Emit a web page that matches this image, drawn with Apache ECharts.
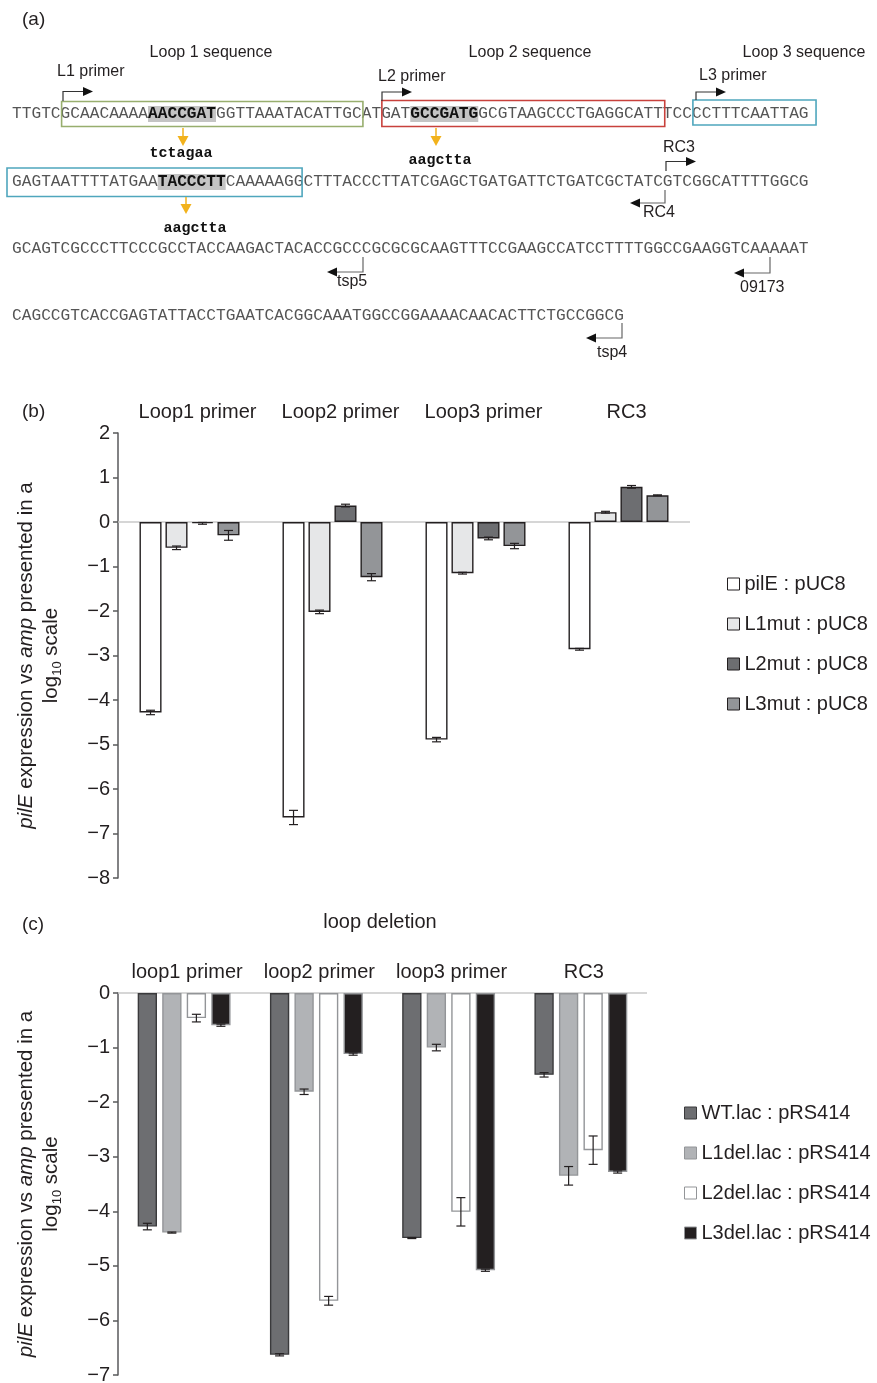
<!DOCTYPE html>
<html><head><meta charset="utf-8">
<script src="https://cdn.jsdelivr.net/npm/echarts@6/dist/echarts.min.js"></script>
<style>html,body{margin:0;padding:0;background:#fff}#c{width:877px;height:1383px}</style>
</head><body><div id="c"></div>
<script>
// ---------- Panel (a): sequence text ----------
var seqLine1 = [['TTGTCGCAACAAAA',0],['AACCGAT',1],['GGTTAAATACATTGCATGAT',0],['GCCGATG',1],['GCGTAAGCCCTGAGGCATTTCCCCTTTCAATTAG',0]];
var seqLine2 = [['GAGTAATTTTATGAA',0],['TACCCTT',1],['CAAAAAGGCTTTACCCTTATCGAGCTGATGATTCTGATCGCTATCGTCGGCATTTTGGCG',0]];
var seqLine3 = [['GCAGTCGCCCTTCCCGCCTACCAAGACTACACCGCCCGCGCGCAAGTTTCCGAAGCCATCCTTTTGGCCGAAGGTCAAAAAT',0]];
var seqLine4 = [['CAGCCGTCACCGAGTATTACCTGAATCACGGCAAATGGCCGGAAAACAACACTTCTGCCGGCG',0]];
var mutations = ['tctagaa','aagctta','aagctta'];

// ---------- Panel (b) data ----------
var catsB = ['Loop1 primer','Loop2 primer','Loop3 primer','RC3'];
var namesB = ['pilE : pUC8','L1mut : pUC8','L2mut : pUC8','L3mut : pUC8'];
var pilE_pUC8     = [-4.28, -6.64, -4.89, -2.86];
var pilE_pUC8_err = [0.05, 0.16, 0.05, 0.02];
var L1mut_pUC8     = [-0.58, -2.02, -1.15, 0.22];
var L1mut_pUC8_err = [0.04, 0.04, 0.02, 0.02];
var L2mut_pUC8     = [-0.03, 0.37, -0.37, 0.79];
var L2mut_pUC8_err = [0.02, 0.03, 0.03, 0.03];
var L3mut_pUC8     = [-0.30, -1.24, -0.54, 0.60];
var L3mut_pUC8_err = [0.11, 0.08, 0.06, 0.01];
var ticksB = {min: -8, max: 2, interval: 1};

// ---------- Panel (c) data ----------
var catsC = ['loop1 primer','loop2 primer','loop3 primer','RC3'];
var namesC = ['WT.lac : pRS414','L1del.lac : pRS414','L2del.lac : pRS414','L3del.lac : pRS414'];
var WT_lac     = [-4.28, -6.63, -4.49, -1.50];
var WT_lac_err = [0.06, 0.02, 0.01, 0.04];
var L1del_lac     = [-4.39, -1.81, -1.00, -3.35];
var L1del_lac_err = [0.01, 0.05, 0.06, 0.17];
var L2del_lac     = [-0.46, -5.64, -4.01, -2.88];
var L2del_lac_err = [0.07, 0.08, 0.26, 0.26];
var L3del_lac     = [-0.59, -1.12, -5.08, -3.28];
var L3del_lac_err = [0.02, 0.02, 0.02, 0.02];
var ticksC = {min: -7, max: 0, interval: 1};

var SANS = '"Liberation Sans", Arial, sans-serif';
var MONO = '"Liberation Mono", "Courier New", monospace';
var INK = '#231f20';

var valsB = [pilE_pUC8, L1mut_pUC8, L2mut_pUC8, L3mut_pUC8];
var errsB = [pilE_pUC8_err, L1mut_pUC8_err, L2mut_pUC8_err, L3mut_pUC8_err];
var valsC = [WT_lac, L1del_lac, L2del_lac, L3del_lac];
var errsC = [WT_lac_err, L1del_lac_err, L2del_lac_err, L3del_lac_err];

var stylesB = [
  {color:'#ffffff', borderColor:INK, borderWidth:1.4},
  {color:'#e6e7e8', borderColor:INK, borderWidth:1.4},
  {color:'#6d6e71', borderColor:INK, borderWidth:1.4},
  {color:'#939598', borderColor:INK, borderWidth:1.4}
];
var stylesC = [
  {color:'#6d6e71', borderColor:'#3a3a3c', borderWidth:1.4},
  {color:'#b1b3b6', borderColor:'#939598', borderWidth:1.4},
  {color:'#ffffff', borderColor:'#939598', borderWidth:1.4},
  {color:'#231f20', borderColor:'#939598', borderWidth:1.4}
];
var BW_B = 0.154, BG_B = 0.18, BW_C = 0.146, BG_C = 0.27;

// ---------- graphic helpers for panel (a) ----------
var CW = 9.72, X0 = 12;
function cx(i){ return X0 + i*CW; }
function seqText(y, parts){
  var s = parts.map(function(p){ return '{' + (p[1] ? 'b' : 'n') + '|' + p[0] + '}'; }).join('');
  return {type:'text', x:X0, y:y, silent:true, style:{text:s, align:'left', verticalAlign:'middle',
    rich:{
      n:{fontFamily:MONO, fontSize:16.2, fill:'#555555', lineHeight:24},
      b:{fontFamily:MONO, fontSize:16.2, fontWeight:'bold', fill:'#111', backgroundColor:'#c4c4c4', lineHeight:24}
    }}};
}
function label(t, x, y, align, size){
  return {type:'text', x:x, y:y, silent:true, style:{text:t, fontFamily:SANS, fontSize:size||16, fill:INK, align:align||'left', verticalAlign:'middle'}};
}
function monoLabel(t, x, y){
  return {type:'text', x:x, y:y, silent:true, style:{text:t, fontFamily:MONO, fontSize:15, fontWeight:'bold', fill:'#111', align:'center', verticalAlign:'middle'}};
}
function box(x1, y1, x2, y2, col){
  return {type:'rect', silent:true, shape:{x:x1, y:y1, width:x2-x1, height:y2-y1}, style:{fill:'none', stroke:col, lineWidth:1.6}};
}
function fwdArrow(x, yb, yt, tip){
  return [
    {type:'polyline', silent:true, shape:{points:[[x,yb],[x,yt],[tip-8,yt]]}, style:{stroke:'#333', lineWidth:1.2, fill:null}},
    {type:'polygon', silent:true, shape:{points:[[tip-10,yt-4.5],[tip,yt],[tip-10,yt+4.5]]}, style:{fill:'#111'}}
  ];
}
function revArrow(x, yt, yb, tip){
  return [
    {type:'polyline', silent:true, shape:{points:[[x,yt],[x,yb],[tip+8,yb]]}, style:{stroke:'#666', lineWidth:1.2, fill:null}},
    {type:'polygon', silent:true, shape:{points:[[tip+10,yb-4.5],[tip,yb],[tip+10,yb+4.5]]}, style:{fill:'#111'}}
  ];
}
function yArrow(x, y1, y2){
  return [
    {type:'line', silent:true, shape:{x1:x, y1:y1, x2:x, y2:y2-8}, style:{stroke:'#f2b21c', lineWidth:1.5}},
    {type:'polygon', silent:true, shape:{points:[[x-5.5,y2-10],[x+5.5,y2-10],[x,y2]]}, style:{fill:'#f2b21c'}}
  ];
}

var graphics = [
  label('(a)', 22, 20, 'left', 19),
  label('(b)', 22, 412, 'left', 19),
  label('(c)', 22, 925, 'left', 19),
  label('loop deletion', 380, 922, 'center', 20),
  label('Loop 1 sequence', 211, 53, 'center'),
  label('Loop 2 sequence', 530, 53, 'center'),
  label('Loop 3 sequence', 804, 53, 'center'),
  label('L1 primer', 57, 72),
  label('L2 primer', 378, 77),
  label('L3 primer', 699, 76),
  label('RC3', 663, 148),
  label('RC4', 643, 213),
  label('tsp5', 337, 282),
  label('09173', 740, 288),
  label('tsp4', 597, 353),
  seqText(114, seqLine1),
  seqText(182, seqLine2),
  seqText(249, seqLine3),
  seqText(316, seqLine4),
  box(cx(5)+1, 101.5, cx(36)+1, 126.5, '#98ae6e'),
  box(cx(38)+0.5, 100.5, cx(67)+1.5, 126.5, '#c8413c'),
  box(cx(70)+0.5, 100, cx(82)+7, 125, '#4fa6bd'),
  box(cx(0)-5, 168, cx(30)-1.5, 196.5, '#4fa6bd'),
  monoLabel(mutations[0], 181, 153),
  monoLabel(mutations[1], 440, 160),
  monoLabel(mutations[2], 195, 228)
];
graphics = graphics
  .concat(fwdArrow(63, 101, 91.5, 93))
  .concat(fwdArrow(382, 101, 92, 412))
  .concat(fwdArrow(696, 100, 92, 726))
  .concat(fwdArrow(666, 171, 161.5, 696))
  .concat(revArrow(665, 190, 203, 630))
  .concat(revArrow(363, 257, 272, 327))
  .concat(revArrow(770, 257, 273, 734))
  .concat(revArrow(622, 323, 338, 586))
  .concat(yArrow(183, 128, 146))
  .concat(yArrow(436, 128, 146))
  .concat(yArrow(186, 197, 214));

// ---------- chart ----------
function minusFmt(v){ return v < 0 ? '\u2212' + Math.abs(v) : String(v); }
function yAxisCfg(gi, t){
  return {type:'value', gridIndex:gi, min:t.min, max:t.max, interval:t.interval,
    name:'{i|pilE} expression vs {i|amp} presented in a\nlog{s|10} scale',
    nameLocation:'middle', nameRotate:90, nameGap:54,
    nameTextStyle:{fontFamily:SANS, fontSize:20.5, lineHeight:25, color:INK,
      rich:{i:{fontFamily:SANS, fontSize:20.5, fontStyle:'italic', color:INK, lineHeight:25},
            s:{fontFamily:SANS, fontSize:13, color:INK, verticalAlign:'bottom', lineHeight:14}}},
    axisLine:{show:true, lineStyle:{color:'#58595b', width:1.5}},
    axisTick:{show:true, length:5, lineStyle:{color:'#58595b', width:1.5}},
    axisLabel:{fontFamily:SANS, fontSize:20, color:INK, margin:8, formatter:minusFmt},
    splitLine:{show:false}};
}
function xAxisCfg(gi, cats, pad){
  return {type:'category', gridIndex:gi, data:cats, position:'top',
    axisLine:{show:false}, axisTick:{show:false},
    axisLabel:{fontFamily:SANS, fontSize:20, color:INK, margin:11, padding:[0,0,0,pad], interval:0}};
}
function barSeries(gi, names, vals, styles, bw, bg){
  return vals.map(function(v, i){
    var s = {type:'bar', name:names[i], xAxisIndex:gi, yAxisIndex:gi, data:v,
      barWidth:(bw*100)+'%', barGap:(bg*100)+'%', itemStyle:styles[i], silent:true, z:2};
    if (i === 0) {
      s.markLine = {silent:true, symbol:'none', label:{show:false}, animation:false, z:1,
        lineStyle:{color:'#c9c9c9', width:1.5, type:'solid'}, data:[{yAxis:0}]};
    }
    return s;
  });
}
function errSeries(gi, vals, errs, bw, bg){
  var n = vals.length;
  return vals.map(function(v, idx){
    return {type:'custom', xAxisIndex:gi, yAxisIndex:gi, z:5, silent:true,
      encode:{x:0, y:1},
      data:v.map(function(val, k){ return [k, val, errs[idx][k]]; }),
      renderItem:function(params, api){
        var k = api.value(0), val = api.value(1), e = api.value(2);
        var band = api.size([1, 0])[0];
        var w = band*bw, g = w*bg;
        var total = n*w + (n-1)*g;
        var off = -total/2 + idx*(w+g) + w/2;
        var p1 = api.coord([k, val + e]), p2 = api.coord([k, val - e]);
        var x = p1[0] + off, hw = 4.5;
        var st = {stroke:INK, lineWidth:1.2};
        return {type:'group', children:[
          {type:'line', shape:{x1:x, y1:p1[1], x2:x, y2:p2[1]}, style:st},
          {type:'line', shape:{x1:x-hw, y1:p1[1], x2:x+hw, y2:p1[1]}, style:st},
          {type:'line', shape:{x1:x-hw, y1:p2[1], x2:x+hw, y2:p2[1]}, style:st}
        ]};
      }};
  });
}
function legendCfg(names, left, top){
  return {data:names, orient:'vertical', left:left, top:top, padding:0,
    itemWidth:12, itemHeight:12, itemGap:20, icon:'rect', selectedMode:false,
    itemStyle:{borderWidth:1},
    textStyle:{fontFamily:SANS, fontSize:20, color:INK, padding:[0,0,0,0]}};
}

var option = {
  animation:false,
  backgroundColor:'#ffffff',
  grid:[
    {left:118, right:187, top:433, height:445, outerBoundsMode:'none'},
    {left:118, right:230, top:993, height:382, outerBoundsMode:'none'}
  ],
  xAxis:[xAxisCfg(0, catsB, 16), xAxisCfg(1, catsC, 6)],
  yAxis:[yAxisCfg(0, ticksB), yAxisCfg(1, ticksC)],
  legend:[legendCfg(namesB, 727, 574), legendCfg(namesC, 684, 1103)],
  graphic:graphics,
  series:[].concat(
    barSeries(0, namesB, valsB, stylesB, BW_B, BG_B),
    errSeries(0, valsB, errsB, BW_B, BG_B),
    barSeries(1, namesC, valsC, stylesC, BW_C, BG_C),
    errSeries(1, valsC, errsC, BW_C, BG_C)
  )
};
var chart = echarts.init(document.getElementById('c'), null, {renderer:'canvas'});
chart.setOption(option);
</script>
</body></html>
